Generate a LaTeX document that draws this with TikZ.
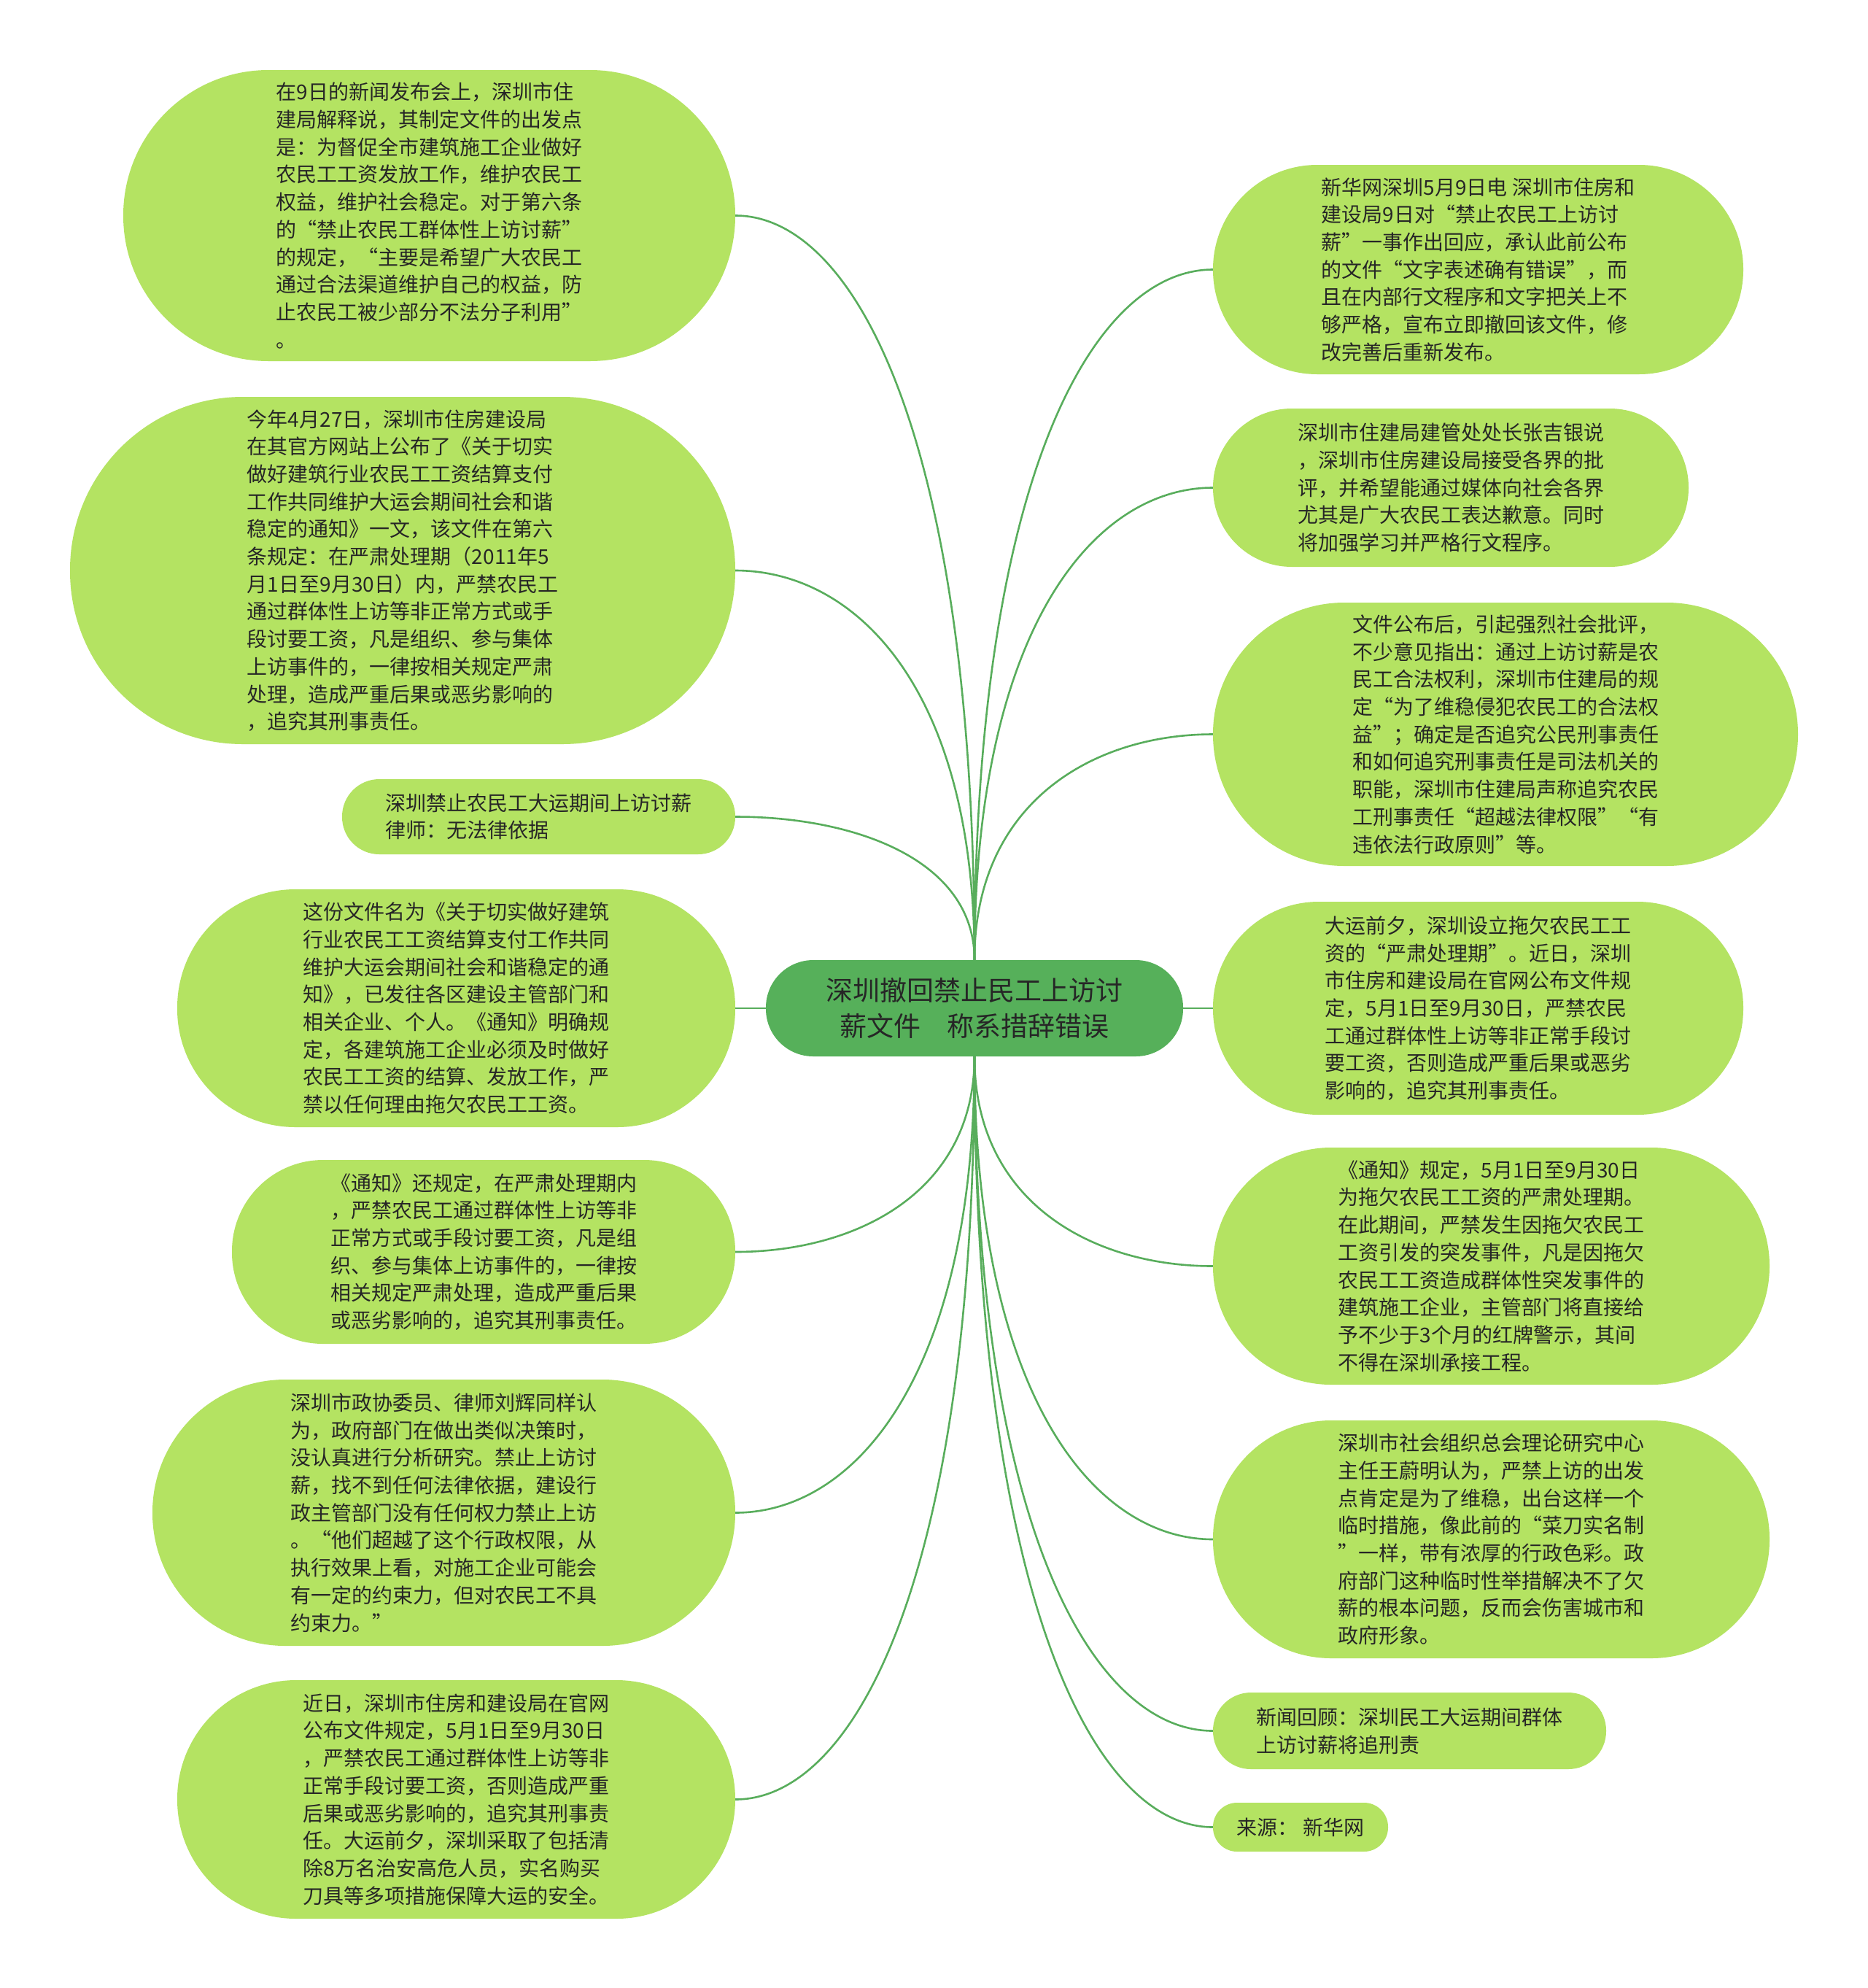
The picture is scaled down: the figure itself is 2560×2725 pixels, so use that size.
\documentclass[tikz,border=0pt]{standalone}
\usepackage{fontspec}
\setmainfont{Noto Sans CJK SC}
\usetikzlibrary{calc}
\definecolor{leaf}{HTML}{B4E362}
\definecolor{rootc}{HTML}{56B05A}
\definecolor{wire}{HTML}{58AD5C}
\definecolor{ink}{HTML}{262626}
\tikzset{
  leafnode/.style={fill=leaf, draw=none, inner sep=0pt, align=left, text=ink,
    font=\fontsize{28}{37.7}\selectfont},
  rootnode/.style={fill=rootc, draw=none, inner sep=0pt, align=center, text=ink,
    font=\fontsize{37}{49}\selectfont, minimum width=572pt, minimum height=132pt,
    rounded corners=65pt},
  conn/.style={draw=wire, line width=2.6pt},
}
\newcommand\mmlink[2]{%
  \path ($(#1)!0.5!(#2)$) coordinate (lkA) ($(#1)!0.3!(#2)$) coordinate (lkB);%
  \draw[conn] (#1) .. controls (lkA |- #1) and (#2 |- lkB) .. (#2);}
\begin{document}
\begin{tikzpicture}[x=1pt,y=-1pt]
\fill[white] (0,0) rectangle (2560,2725);
\useasboundingbox (0,0) rectangle (2560,2725);

% root
\node[rootnode] (C) at (1336,1382) {深圳撤回禁止民工上访讨\\薪文件\quad 称系措辞错误};

% left leaves
\node[leafnode, minimum width=839pt, minimum height=399pt, rounded corners=199pt] (L1) at (588.5,295.5)
{在9日的新闻发布会上，深圳市住\\建局解释说，其制定文件的出发点\\是：为督促全市建筑施工企业做好\\农民工工资发放工作，维护农民工\\权益，维护社会稳定。对于第六条\\的“禁止农民工群体性上访讨薪”\\的规定，“主要是希望广大农民工\\通过合法渠道维护自己的权益，防\\止农民工被少部分不法分子利用”\\。};

\node[leafnode, minimum width=912pt, minimum height=476pt, rounded corners=237pt] (L2) at (552,782)
{今年4月27日，深圳市住房建设局\\在其官方网站上公布了《关于切实\\做好建筑行业农民工工资结算支付\\工作共同维护大运会期间社会和谐\\稳定的通知》一文，该文件在第六\\条规定：在严肃处理期（2011年5\\月1日至9月30日）内，严禁农民工\\通过群体性上访等非正常方式或手\\段讨要工资，凡是组织、参与集体\\上访事件的，一律按相关规定严肃\\处理，造成严重后果或恶劣影响的\\，追究其刑事责任。};

\node[leafnode, minimum width=539pt, minimum height=103pt, rounded corners=51pt] (L3) at (738.5,1119.5)
{深圳禁止农民工大运期间上访讨薪\\律师：无法律依据};

\node[leafnode, minimum width=765pt, minimum height=326pt, rounded corners=162pt] (L4) at (625.5,1382)
{这份文件名为《关于切实做好建筑\\行业农民工工资结算支付工作共同\\维护大运会期间社会和谐稳定的通\\知》，已发往各区建设主管部门和\\相关企业、个人。《通知》明确规\\定，各建筑施工企业必须及时做好\\农民工工资的结算、发放工作，严\\禁以任何理由拖欠农民工工资。};

\node[leafnode, minimum width=690pt, minimum height=252pt, rounded corners=125pt] (L5) at (663,1716)
{《通知》还规定，在严肃处理期内\\，严禁农民工通过群体性上访等非\\正常方式或手段讨要工资，凡是组\\织、参与集体上访事件的，一律按\\相关规定严肃处理，造成严重后果\\或恶劣影响的，追究其刑事责任。};

\node[leafnode, minimum width=799pt, minimum height=365pt, rounded corners=182pt] (L6) at (608.5,2073.5)
{深圳市政协委员、律师刘辉同样认\\为，政府部门在做出类似决策时，\\没认真进行分析研究。禁止上访讨\\薪，找不到任何法律依据，建设行\\政主管部门没有任何权力禁止上访\\。“他们超越了这个行政权限，从\\执行效果上看，对施工企业可能会\\有一定的约束力，但对农民工不具\\约束力。”};

\node[leafnode, minimum width=765pt, minimum height=327pt, rounded corners=163pt] (L7) at (625.5,2466.5)
{近日，深圳市住房和建设局在官网\\公布文件规定，5月1日至9月30日\\，严禁农民工通过群体性上访等非\\正常手段讨要工资，否则造成严重\\后果或恶劣影响的，追究其刑事责\\任。大运前夕，深圳采取了包括清\\除8万名治安高危人员，实名购买\\刀具等多项措施保障大运的安全。};

% right leaves
\node[leafnode, minimum width=727pt, minimum height=287pt, rounded corners=143pt] (R1) at (2026.5,369.5)
{新华网深圳5月9日电 深圳市住房和\\建设局9日对“禁止农民工上访讨\\薪”一事作出回应，承认此前公布\\的文件“文字表述确有错误”，而\\且在内部行文程序和文字把关上不\\够严格，宣布立即撤回该文件，修\\改完善后重新发布。};

\node[leafnode, minimum width=652pt, minimum height=217pt, rounded corners=108pt] (R2) at (1989,668.5)
{深圳市住建局建管处处长张吉银说\\，深圳市住房建设局接受各界的批\\评，并希望能通过媒体向社会各界\\尤其是广大农民工表达歉意。同时\\将加强学习并严格行文程序。};

\node[leafnode, minimum width=802pt, minimum height=361pt, rounded corners=180pt] (R3) at (2064,1006.5)
{文件公布后，引起强烈社会批评，\\不少意见指出：通过上访讨薪是农\\民工合法权利，深圳市住建局的规\\定“为了维稳侵犯农民工的合法权\\益”；确定是否追究公民刑事责任\\和如何追究刑事责任是司法机关的\\职能，深圳市住建局声称追究农民\\工刑事责任“超越法律权限”“有\\违依法行政原则”等。};

\node[leafnode, minimum width=727pt, minimum height=292pt, rounded corners=145pt] (R4) at (2026.5,1382)
{大运前夕，深圳设立拖欠农民工工\\资的“严肃处理期”。近日，深圳\\市住房和建设局在官网公布文件规\\定，5月1日至9月30日，严禁农民\\工通过群体性上访等非正常手段讨\\要工资，否则造成严重后果或恶劣\\影响的，追究其刑事责任。};

\node[leafnode, minimum width=763pt, minimum height=325pt, rounded corners=162pt] (R5) at (2044.5,1735.5)
{《通知》规定，5月1日至9月30日\\为拖欠农民工工资的严肃处理期。\\在此期间，严禁发生因拖欠农民工\\工资引发的突发事件，凡是因拖欠\\农民工工资造成群体性突发事件的\\建筑施工企业，主管部门将直接给\\予不少于3个月的红牌警示，其间\\不得在深圳承接工程。};

\node[leafnode, minimum width=763pt, minimum height=326pt, rounded corners=162pt] (R6) at (2044.5,2110)
{深圳市社会组织总会理论研究中心\\主任王蔚明认为，严禁上访的出发\\点肯定是为了维稳，出台这样一个\\临时措施，像此前的“菜刀实名制\\”一样，带有浓厚的行政色彩。政\\府部门这种临时性举措解决不了欠\\薪的根本问题，反而会伤害城市和\\政府形象。};

\node[leafnode, minimum width=539pt, minimum height=105pt, rounded corners=52pt] (R7) at (1932.5,2372.5)
{新闻回顾：深圳民工大运期间群体\\上访讨薪将追刑责};

\node[leafnode, minimum width=240pt, minimum height=67pt, rounded corners=33pt] (R8) at (1783,2504.5)
{来源： 新华网};

% connectors
\mmlink{L1.east}{C.north}
\mmlink{L2.east}{C.north}
\mmlink{L3.east}{C.north}
\draw[conn] (L4.east) -- (C.west);
\mmlink{L5.east}{C.south}
\mmlink{L6.east}{C.south}
\mmlink{L7.east}{C.south}
\mmlink{R1.west}{C.north}
\mmlink{R2.west}{C.north}
\mmlink{R3.west}{C.north}
\draw[conn] (C.east) -- (R4.west);
\mmlink{R5.west}{C.south}
\mmlink{R6.west}{C.south}
\mmlink{R7.west}{C.south}
\mmlink{R8.west}{C.south}
\end{tikzpicture}
\end{document}
